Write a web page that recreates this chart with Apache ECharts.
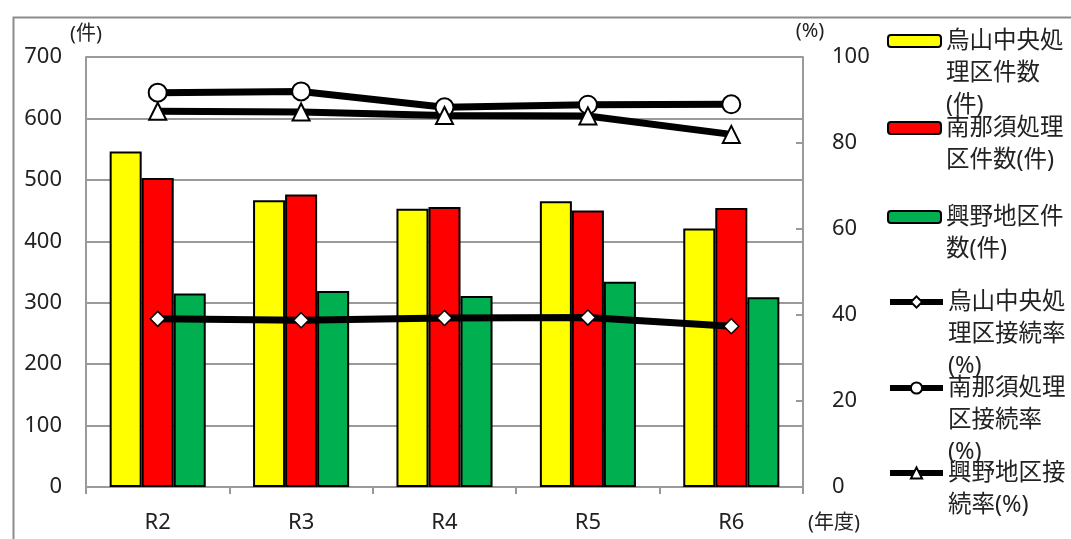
<!DOCTYPE html>
<html>
<head>
<meta charset="utf-8">
<script src="https://cdn.jsdelivr.net/npm/echarts@6/dist/echarts.min.js"></script>
<style>
html,body{margin:0;padding:0;background:#fff;}
#chart{width:1071px;height:539px;}
</style>
</head>
<body>
<div id="chart"></div>
<script>
// ---- data ----
const categories = ['R2', 'R3', 'R4', 'R5', 'R6'];
const karasuyamaCount = [546, 467, 453, 465, 421];
const minaminasuCount = [503, 476, 456, 450, 454];
const konoCount = [315, 319, 311, 334, 309];
const karasuyamaRate = [39.1, 38.8, 39.3, 39.4, 37.4];
const minaminasuRate = [91.7, 92.0, 88.3, 88.9, 89.0];
const konoRate = [87.4, 87.2, 86.4, 86.3, 82.0];
const leftTicks = [0, 700, 100];   // min, max, interval
const rightTicks = [0, 100, 20];
const seriesNames = ['烏山中央処理区件数(件)', '南那須処理区件数(件)', '興野地区件数(件)',
  '烏山中央処理区接続率(%)', '南那須処理区接続率(%)', '興野地区接続率(%)'];
const legendLabels = ['烏山中央処\n理区件数\n(件)', '南那須処理\n区件数(件)', '興野地区件\n数(件)',
  '烏山中央処\n理区接続率\n(%)', '南那須処理\n区接続率\n(%)', '興野地区接\n続率(%)'];
const leftName = '(件)';
const rightName = '(%)';
const xName = '(年度)';

// ---- styling ----
const FONT = "'Noto Sans', 'Noto Sans CJK JP', sans-serif";
const TXT = '#222';
const GRAY = '#9a9a9a';
const legendIconY = [41, 128, 217, 302, 388, 473];
const LH = 32;

const chart = echarts.init(document.getElementById('chart'), null, {renderer: 'canvas'});

const barColors = ['#ffff00', '#ff0000', '#00b050'];
const barData = [karasuyamaCount, minaminasuCount, konoCount];
const lineData = [karasuyamaRate, minaminasuRate, konoRate];
const lineSymbols = ['diamond', 'circle', 'triangle'];
const lineSymbolSizes = [15, 18, 17];

const series = [];
barData.forEach((d, i) => {
  series.push({
    name: seriesNames[i], type: 'bar', yAxisIndex: 0, data: d,
    barGap: '0%', barCategoryGap: '33%',
    itemStyle: {color: barColors[i], borderColor: '#000', borderWidth: 2},
    animation: false
  });
});
lineData.forEach((d, i) => {
  series.push({
    name: seriesNames[3 + i], type: 'line', yAxisIndex: 1, data: d,
    symbol: lineSymbols[i], symbolSize: lineSymbolSizes[i],
    lineStyle: {color: '#000', width: 7},
    itemStyle: {color: '#fff', borderColor: '#000', borderWidth: i === 0 ? 1.5 : 2},
    z: 5, animation: false
  });
});

// The first text line sits level with the icon: pad the block with blank lines above it.
const legends = seriesNames.map((name, i) => {
  const n = legendLabels[i].split('\n').length;
  const isLine = i >= 3;
  const h = isLine ? 14 : 12;
  const filler = new Array(n - 1).fill('\u00a0').join('\n');
  const text = (n > 1 ? filler + '\n' : '') + legendLabels[i];
  return {
    show: true, orient: 'vertical', left: 887, top: legendIconY[i] - (2 * n - 1) * LH / 2,
    padding: 0, itemWidth: 53, itemHeight: h, itemGap: 0,
    data: [name], selectedMode: false,
    formatter: () => text,
    lineStyle: {width: 6, color: '#000'},
    textStyle: {fontFamily: FONT, fontSize: 23.5, color: TXT, lineHeight: LH}
  };
});

const option = {
  animation: false,
  backgroundColor: '#fff',
  textStyle: {fontFamily: FONT},
  grid: {left: 86, right: 268, top: 57, bottom: 52, containLabel: false},
  legend: legends,
  graphic: [{
    type: 'rect', left: 11, top: 15, z: 0,
    shape: {x: 0, y: 0, width: 1200, height: 600},
    style: {fill: 'none', stroke: '#8c8c8c', lineWidth: 2}
  }, {
    type: 'text', left: 808, top: 513, z: 10,
    style: {text: xName, font: "20px 'Noto Sans', 'Noto Sans CJK JP', sans-serif", fill: TXT}
  }],
  xAxis: {
    type: 'category', data: categories, boundaryGap: true,
    axisLine: {show: true, lineStyle: {color: GRAY, width: 2}},
    axisTick: {show: true, length: 7, lineStyle: {color: GRAY, width: 2}, alignWithLabel: false},
    axisLabel: {fontFamily: FONT, fontSize: 22, color: TXT, margin: 25},
    splitLine: {show: false}
  },
  yAxis: [{
    type: 'value', min: leftTicks[0], max: leftTicks[1], interval: leftTicks[2], position: 'left',
    name: leftName, nameLocation: 'end', nameGap: 23,
    nameTextStyle: {fontFamily: FONT, fontSize: 20, color: TXT, align: 'center', verticalAlign: 'middle'},
    axisLine: {show: true, lineStyle: {color: GRAY, width: 2}},
    axisTick: {show: false},
    axisLabel: {fontFamily: FONT, fontSize: 22, color: TXT, margin: 24},
    splitLine: {show: true, lineStyle: {color: GRAY, width: 2}}
  }, {
    type: 'value', min: rightTicks[0], max: rightTicks[1], interval: rightTicks[2], position: 'right',
    name: rightName, nameLocation: 'end', nameGap: 26,
    nameTextStyle: {fontFamily: FONT, fontSize: 20, color: TXT, align: 'center', verticalAlign: 'middle', padding: [0, 0, 0, 14]},
    axisLine: {show: true, lineStyle: {color: GRAY, width: 2}},
    axisTick: {show: true, inside: true, length: 7, lineStyle: {color: GRAY, width: 2}},
    axisLabel: {fontFamily: FONT, fontSize: 22, color: TXT, margin: 29},
    splitLine: {show: false}
  }],
  series: series
};
chart.setOption(option);
</script>
</body>
</html>
